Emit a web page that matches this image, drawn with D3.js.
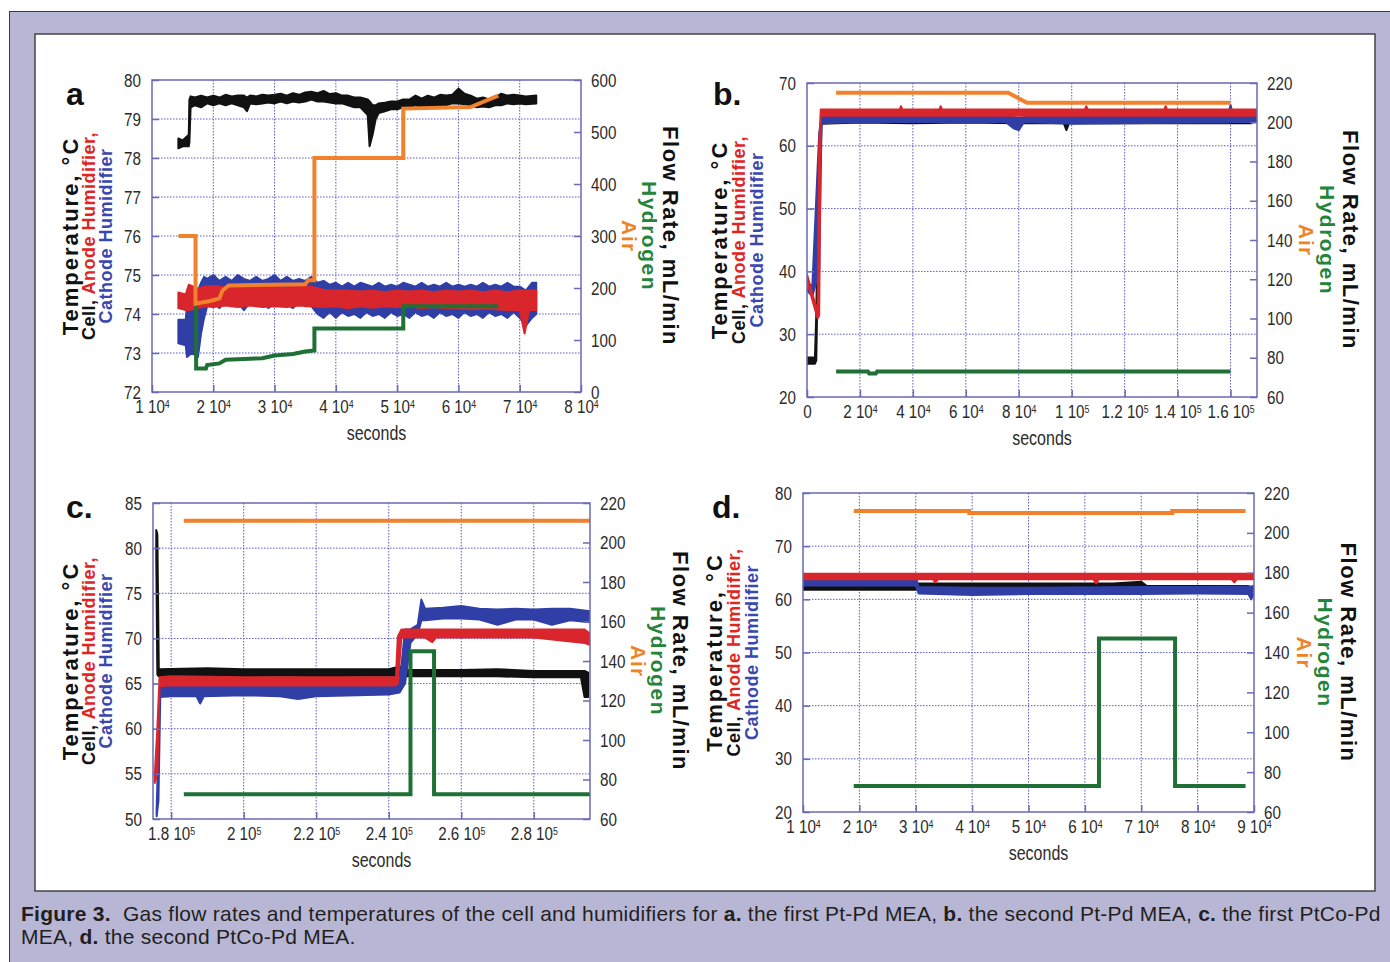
<!DOCTYPE html>
<html><head><meta charset="utf-8">
<script src="https://cdn.jsdelivr.net/npm/d3@7"></script>
<style>
body{margin:0;background:#fff;}
svg text{white-space:pre;}
</style></head><body>
<svg id="chart" width="1390" height="962"></svg>
<script>
// ================= DATA =================
// Panel a
const aXDomain = [10000, 80000];
const aYDomain = [72, 80];
const aRDomain = [0, 600];
const aXTicks = [10000,20000,30000,40000,50000,60000,70000,80000];
const aXLabels = ["1 10^4","2 10^4","3 10^4","4 10^4","5 10^4","6 10^4","7 10^4","8 10^4"];
const aYTicks = [72,73,74,75,76,77,78,79,80];
const aRTicks = [0,100,200,300,400,500,600];
// temperature bands: [seconds, low, high]
const aCell = [[14300,78.25,78.5],[15000,78.3,78.45],[16000,78.3,78.6],[16100,78.4,79.5],[16300,79.3,79.58],[17000,79.35,79.55],[18000,79.3,79.6],[19000,79.4,79.55],[20000,79.35,79.6],[21000,79.4,79.55],[22000,79.35,79.62],[23000,79.4,79.58],[24000,79.35,79.6],[25000,79.3,79.6],[25500,79.2,79.55],[26000,79.4,79.6],[27000,79.38,79.58],[28000,79.4,79.62],[29000,79.42,79.6],[30000,79.4,79.62],[31000,79.45,79.65],[32000,79.4,79.6],[33000,79.45,79.66],[34000,79.42,79.62],[35000,79.45,79.68],[36000,79.5,79.7],[37000,79.45,79.66],[38000,79.45,79.72],[39000,79.42,79.64],[40000,79.4,79.66],[41000,79.4,79.6],[42000,79.35,79.6],[43000,79.3,79.55],[44000,79.3,79.55],[45200,79.1,79.5],[45500,78.3,79.45],[46000,78.6,79.35],[46500,79.0,79.35],[47000,79.15,79.4],[48000,79.2,79.42],[49000,79.25,79.45],[50000,79.25,79.45],[51000,79.3,79.5],[52000,79.3,79.5],[53000,79.35,79.6],[54000,79.3,79.52],[55000,79.3,79.6],[56000,79.35,79.55],[57000,79.35,79.62],[58000,79.35,79.6],[59000,79.4,79.62],[60000,79.4,79.78],[61000,79.38,79.65],[62000,79.35,79.6],[63000,79.3,79.52],[64000,79.32,79.55],[65000,79.3,79.5],[66000,79.35,79.55],[67000,79.35,79.65],[68000,79.4,79.6],[69000,79.38,79.62],[70000,79.4,79.6],[71000,79.38,79.58],[72700,79.4,79.6]];
const aAnode = [[14300,74.15,74.55],[15500,74.1,74.5],[16000,74.1,74.75],[17500,74.15,74.65],[18500,74.2,74.7],[20000,74.18,74.72],[22000,74.22,74.68],[24000,74.18,74.72],[26000,74.22,74.68],[28000,74.18,74.72],[30000,74.2,74.7],[32000,74.18,74.68],[34000,74.22,74.72],[36000,74.2,74.7],[38000,74.18,74.62],[40000,74.2,74.6],[42000,74.15,74.6],[44000,74.2,74.58],[46000,74.16,74.6],[48000,74.2,74.56],[50000,74.18,74.6],[52000,74.2,74.58],[54000,74.15,74.6],[56000,74.18,74.56],[58000,74.15,74.6],[60000,74.15,74.58],[62000,74.12,74.6],[64000,74.15,74.56],[66000,74.12,74.6],[68000,74.1,74.56],[70000,74.1,74.6],[70800,73.5,74.6],[71500,74.1,74.6],[72700,74.1,74.6]];
const aCathode = [[14300,73.25,73.85],[15500,73.2,73.85],[15700,72.9,74.2],[16500,73.0,74.5],[17500,72.9,74.6],[18000,73.5,74.8],[18500,73.9,74.95],[19000,74.2,74.9],[20000,74.3,75.0],[21000,74.15,74.85],[22000,74.3,74.95],[23000,74.2,74.85],[24000,74.3,75.0],[25000,74.1,74.9],[26000,74.3,74.85],[27000,74.2,74.95],[28000,74.3,74.85],[29000,74.15,74.9],[30000,74.3,75.0],[31000,74.2,74.85],[32000,74.25,74.95],[33000,74.15,74.85],[34000,74.3,74.9],[35000,74.2,74.85],[36000,74.2,74.95],[37000,74.0,74.8],[38000,73.9,74.85],[39000,74.05,74.75],[40000,73.9,74.8],[41000,74.05,74.7],[42000,73.95,74.8],[43000,74.0,74.7],[44000,73.9,74.8],[45000,74.05,74.75],[46000,73.95,74.7],[47000,74.0,74.8],[48000,73.9,74.7],[49000,74.05,74.75],[50000,73.95,74.7],[51000,74.0,74.8],[52000,73.9,74.75],[53000,74.05,74.7],[54000,73.95,74.8],[55000,74.0,74.7],[56000,73.9,74.75],[57000,74.05,74.7],[58000,73.95,74.8],[59000,74.0,74.7],[60000,73.9,74.75],[61000,74.05,74.7],[62000,73.95,74.75],[63000,74.0,74.7],[64000,73.9,74.8],[65000,74.05,74.7],[66000,73.95,74.75],[67000,74.0,74.7],[68000,73.9,74.8],[69000,74.05,74.7],[70000,73.9,74.7],[71000,73.7,74.6],[72000,73.9,74.8],[72700,74.0,74.8]];
// flow steps: [seconds, mL/min]
const aAir = [[14300,300],[17100,300],[17100,170],[19500,175],[21000,180],[21500,195],[22500,205],[35000,207],[35500,215],[36500,215],[36500,450],[51000,450],[51000,545],[62000,548],[66500,570]];
const aHydrogen = [[17200,165],[17200,45],[18800,45],[19000,52],[21000,55],[22000,62],[28000,65],[30000,70],[33000,73],[35000,78],[36500,80],[36500,122],[51000,122],[51000,165],[66500,165]];

// Panel b
const bXDomain = [0, 170000];
const bYDomain = [20, 70];
const bRDomain = [60, 220];
const bXTicks = [0,20000,40000,60000,80000,100000,120000,140000,160000];
const bXLabels = ["0","2 10^4","4 10^4","6 10^4","8 10^4","1 10^5","1.2 10^5","1.4 10^5","1.6 10^5"];
const bYTicks = [20,30,40,50,60,70];
const bRTicks = [60,80,100,120,140,160,180,200,220];
const bCell = [[0,25.3,26.3],[3000,25.3,26.3],[3500,25.8,33],[4500,50,58],[5500,63.5,64.5],[20000,63.7,64.3],[40000,63.6,64.3],[60000,63.7,64.3],[80000,63.6,64.4],[97000,63.6,64.3],[98000,62.5,64.3],[99000,63.6,64.3],[120000,63.6,64.3],[140000,63.6,64.3],[160000,63.6,64.4],[168000,63.6,64.4]];
const bAnode = [[0,38.5,39.5],[4000,32.5,33.5],[4600,33,60],[5200,64.8,65.8],[35000,64.8,65.8],[35500,64.8,66.3],[36000,64.8,65.8],[50000,64.8,65.8],[50500,64.8,66.3],[51000,64.8,65.8],[105000,64.8,65.8],[105500,64.8,66.3],[106000,64.8,65.8],[135000,64.8,65.8],[135500,64.8,66.3],[136000,64.8,65.8],[170000,64.8,65.8]];
const bCathode = [[0,37,38.5],[2000,36,37.5],[4600,40,62],[5500,63.6,64.6],[20000,63.8,64.6],[75000,63.8,64.6],[78000,62.8,64.6],[80000,62.5,64.4],[82000,63.8,64.6],[100000,63.5,64.6],[120000,63.6,64.7],[150000,63.7,64.8],[159000,63.7,64.8],[160000,63.8,66.5],[161000,63.8,64.8],[170000,63.8,65.2]];
const bAir = [[11000,215],[76000,215],[83000,210],[160000,210]];
const bHydrogen = [[11000,73],[23000,73],[23500,72],[26000,72],[26500,73],[160000,73]];

// Panel c
const cXDomain = [175000, 295500];
const cYDomain = [50, 85];
const cRDomain = [60, 220];
const cXTicks = [180000,200000,220000,240000,260000,280000];
const cXLabels = ["1.8 10^5","2 10^5","2.2 10^5","2.4 10^5","2.6 10^5","2.8 10^5"];
const cYTicks = [50,55,60,65,70,75,80,85];
const cRTicks = [60,80,100,120,140,160,180,200,220];
const cCell = [[175900,79,82],[176200,66,81.5],[176600,65.8,66.6],[190000,65.9,66.7],[200000,65.8,66.6],[210000,65.9,66.6],[220000,65.8,66.6],[240000,65.9,66.6],[243000,65.8,66.9],[245000,65.8,66.5],[260000,65.8,66.5],[270000,65.8,66.6],[280000,65.7,66.4],[293000,65.7,66.4],[294000,63.5,66.4],[295000,63.5,66.2]];
const cAnode = [[175500,54,55],[176200,55,60],[176800,64.7,65.7],[180000,64.8,65.8],[200000,64.8,65.7],[220000,64.8,65.7],[242000,64.8,65.7],[242500,65,70.2],[243500,70.1,71],[250000,70.1,71],[252000,69.6,71],[253000,70.1,71],[260000,70.1,71],[280000,70.1,71],[294000,69.5,71],[295500,69.3,70.5]];
const cCathode = [[176000,50.3,51],[176500,52,58],[177000,63.5,65],[180000,63.6,65],[187000,63.6,65],[188000,62.8,65],[189000,63.6,65],[200000,63.7,65],[210000,63.6,65],[215000,63.3,65],[220000,63.6,65],[240000,63.8,64.9],[243000,64.0,65],[244500,65,71],[246000,69.5,71],[248000,70.5,71.5],[249000,72,74.3],[250000,72,73.3],[255000,72.2,73.4],[260000,72.2,73.6],[265000,72.1,73.3],[270000,71.5,73.2],[275000,72.1,73.3],[280000,72.1,73.2],[285000,71.5,73.3],[290000,72,73.3],[295500,71.8,73.0]];
const cAir = [[183500,211],[295500,211]];
const cHydrogen = [[183500,72.5],[246000,72.5],[246000,145],[252500,145],[252500,72.5],[295500,72.5]];

// Panel d
const dXDomain = [10000, 90000];
const dYDomain = [20, 80];
const dRDomain = [60, 220];
const dXTicks = [10000,20000,30000,40000,50000,60000,70000,80000,90000];
const dXLabels = ["1 10^4","2 10^4","3 10^4","4 10^4","5 10^4","6 10^4","7 10^4","8 10^4","9 10^4"];
const dYTicks = [20,30,40,50,60,70,80];
const dRTicks = [60,80,100,120,140,160,180,200,220];
const dCell = [[10000,61.8,62.8],[30000,61.8,62.8],[30500,62.1,63],[50000,62.1,63],[65000,62.2,63],[70000,62.3,63.3],[71000,61.8,62.5],[89000,61.8,62.5]];
const dCathode = [[10000,62.6,64.3],[30000,62.6,64.3],[30500,61.1,62.3],[40000,60.8,62.2],[50000,61,62.2],[70000,61,62.3],[80000,61.1,62.3],[89000,61,62.4],[89500,60,62.4],[90000,61,62.5]];
const dAnode = [[10000,63.8,64.8],[33000,63.8,64.8],[33500,63.2,64.8],[34000,63.8,64.8],[61500,63.8,64.8],[62000,63.0,64.8],[62500,63.8,64.8],[86000,63.8,64.8],[86500,63.2,64.8],[87000,63.8,64.8],[90000,63.8,64.8]];
const dAir = [[19000,211],[39500,211],[39500,210],[75500,210],[75500,211],[88500,211]];
const dHydrogen = [[19000,73],[62500,73],[62500,147],[76000,147],[76000,73],[88500,73]];

const caption1 = [["Figure 3.",true],["  Gas flow rates and temperatures of the cell and humidifiers for ",false],["a.",true],[" the first Pt-Pd MEA, ",false],["b.",true],[" the second Pt-Pd MEA, ",false],["c.",true],[" the first PtCo-Pd",false]];
const caption2 = [["MEA, ",false],["d.",true],[" the second PtCo-Pd MEA.",false]];

// ================= STYLE / LAYOUT =================
const C = {cell:"#111111", anode:"#d8262c", cathode:"#2f3fa6", air:"#f2812e", hydrogen:"#1f7034",
           frame:"#6a6ab4", grid:"#5a5ac8", label:"#e0251f", labelB:"#3848b0", labelG:"#23843a", labelO:"#f08224"};

const panels = [
  {letter:"a", lx:66, ly:105, l:152, r:581, t:80, b:392, xDom:aXDomain, yDom:aYDomain, rDom:aRDomain,
   xTicks:aXTicks, xLabels:aXLabels, yTicks:aYTicks, rTicks:aRTicks,
   cell:aCell, anode:aAnode, cathode:aCathode, air:aAir, hyd:aHydrogen, tl:[-74,-57,-40], tr:[41,61,82]},
  {letter:"b.", lx:713, ly:105, l:807, r:1257, t:83, b:397, xDom:bXDomain, yDom:bYDomain, rDom:bRDomain,
   xTicks:bXTicks, xLabels:bXLabels, yTicks:bYTicks, rTicks:bRTicks,
   cell:bCell, anode:bAnode, cathode:bCathode, air:bAir, hyd:bHydrogen, tl:[-80,-62,-44], tr:[42,63,86]},
  {letter:"c.", lx:66, ly:518, l:153, r:590, t:503, b:819, xDom:cXDomain, yDom:cYDomain, rDom:cRDomain,
   xTicks:cXTicks, xLabels:cXLabels, yTicks:cYTicks, rTicks:cRTicks,
   cell:cCell, anode:cAnode, cathode:cCathode, air:cAir, hyd:cHydrogen, tl:[-75,-58,-41], tr:[41,61,83]},
  {letter:"d.", lx:712, ly:518, l:803, r:1254, t:493, b:812, xDom:dXDomain, yDom:dYDomain, rDom:dRDomain,
   xTicks:dXTicks, xLabels:dXLabels, yTicks:dYTicks, rTicks:dRTicks,
   cell:dCell, anode:dAnode, cathode:dCathode, air:dAir, hyd:dHydrogen, tl:[-81,-63,-45], tr:[43,64,87]}
];

const svg = d3.select("#chart");
svg.append("rect").attr("x",9.5).attr("y",11.5).attr("width",1400).attr("height",1000)
   .attr("fill","#b8b6d5").attr("stroke","#3a3a3a").attr("stroke-width",1);
svg.append("rect").attr("x",35).attr("y",34).attr("width",1340).attr("height",857)
   .attr("fill","#ffffff").attr("stroke","#444").attr("stroke-width",1.5);

const tickFont = "'Liberation Sans',Arial,sans-serif";
const boldFont = "'Liberation Sans',Arial,sans-serif";
const SQ = 0.8; // horizontal condensing of tick labels

function condense(sel){
  sel.each(function(){
    const t = d3.select(this); const xv = +t.attr("x") || 0;
    t.attr("x",0).attr("transform",`translate(${xv},0) scale(${SQ},1)`);
  });
}

panels.forEach((p,i)=>{
  const g = svg.append("g");
  const x = d3.scaleLinear().domain(p.xDom).range([p.l,p.r]);
  const y = d3.scaleLinear().domain(p.yDom).range([p.b,p.t]);
  const yr = d3.scaleLinear().domain(p.rDom).range([p.b,p.t]);
  const w = p.r-p.l, h = p.b-p.t;

  const gridX = p.xTicks.filter(v=>x(v)>p.l+2 && x(v)<p.r-2);
  const gridY = p.yTicks.filter(v=>y(v)>p.t+2 && y(v)<p.b-2);
  g.selectAll(".gx").data(gridX).join("line").attr("x1",d=>x(d)).attr("x2",d=>x(d)).attr("y1",p.t).attr("y2",p.b)
    .attr("stroke",C.grid).attr("stroke-width",1).attr("stroke-dasharray","1.5,1.5");
  g.selectAll(".gy").data(gridY).join("line").attr("y1",d=>y(d)).attr("y2",d=>y(d)).attr("x1",p.l).attr("x2",p.r)
    .attr("stroke",C.grid).attr("stroke-width",1).attr("stroke-dasharray","1.5,1.5");

  const cid = "clip"+i;
  svg.append("clipPath").attr("id",cid).append("rect").attr("x",p.l).attr("y",p.t).attr("width",w).attr("height",h);
  const plot = g.append("g").attr("clip-path",`url(#${cid})`);

  const area = d3.area().x(d=>x(d[0])).y0(d=>y(d[1])).y1(d=>y(d[2]));
  [["cell",C.cell],["cathode",C.cathode],["anode",C.anode]].forEach(([k,col])=>{
    plot.append("path").datum(p[k]).attr("d",area).attr("fill",col).attr("stroke",col)
      .attr("stroke-width",2).attr("stroke-linejoin","round");
  });
  const line = d3.line().x(d=>x(d[0])).y(d=>yr(d[1]));
  [["hyd",C.hydrogen],["air",C.air]].forEach(([k,col])=>{
    plot.append("path").datum(p[k]).attr("d",line).attr("fill","none").attr("stroke",col)
      .attr("stroke-width",4).attr("stroke-linejoin","miter");
  });

  g.append("rect").attr("x",p.l).attr("y",p.t).attr("width",w).attr("height",h)
    .attr("fill","none").attr("stroke",C.frame).attr("stroke-width",1.5);

  const styleAxis = sel => {
    sel.select(".domain").remove();
    sel.selectAll(".tick line").attr("stroke",C.frame).attr("stroke-width",1.5);
    sel.selectAll(".tick text").attr("fill","#2b2b2b").style("font-family",tickFont).style("font-size","19px");
    condense(sel.selectAll(".tick text"));
  };
  const la = g.append("g").attr("transform",`translate(${p.l},0)`)
    .call(d3.axisLeft(y).tickValues(p.yTicks).tickSize(-7).tickPadding(11).tickFormat(d3.format("d")));
  styleAxis(la);
  const ra = g.append("g").attr("transform",`translate(${p.r},0)`)
    .call(d3.axisRight(yr).tickValues(p.rTicks).tickSize(-7).tickPadding(10).tickFormat(d3.format("d")));
  styleAxis(ra);
  const ba = g.append("g").attr("transform",`translate(0,${p.b})`)
    .call(d3.axisBottom(x).tickValues(p.xTicks).tickSize(-7).tickPadding(8).tickFormat((d,j)=>p.xLabels[j]));
  styleAxis(ba);
  ba.selectAll(".tick text").each(function(d,j){
    const s = p.xLabels[j]; const t = d3.select(this); t.text(null);
    const parts = s.split("^");
    t.append("tspan").text(parts[0]);
    if(parts[1]) t.append("tspan").attr("dy","-0.5em").style("font-size","11px").text(parts[1]);
  });

  g.append("text").attr("transform",`translate(${(p.l+p.r)/2+10},${p.b+48}) scale(${SQ},1)`).attr("text-anchor","middle")
    .style("font-family",tickFont).style("font-size","20px").attr("fill","#2b2b2b").text("seconds");

  const cy = (p.t+p.b)/2;
  const lt = (dx, parts, size, ls) => {
    const t = g.append("text").attr("transform",`translate(${p.l+dx},${cy}) rotate(-90)`)
      .attr("text-anchor","middle").style("font-family",boldFont).style("font-weight","bold")
      .style("font-size",size+"px").style("letter-spacing",ls+"px");
    parts.forEach(([s,c])=>t.append("tspan").attr("fill",c).text(s));
  };
  lt(p.tl[0], [["Temperature, °C","#111"]], 22, 2);
  lt(p.tl[1], [["Cell, ","#111"],["Anode Humidifier,",C.label]], 18, 0.5);
  lt(p.tl[2], [["Cathode Humidifier",C.labelB]], 18, 0.5);
  const rt = (dx, s, c, size, ls) => {
    g.append("text").attr("transform",`translate(${p.r+dx},${cy}) rotate(90)`)
      .attr("text-anchor","middle").style("font-family",boldFont).style("font-weight","bold")
      .style("font-size",size+"px").style("letter-spacing",ls+"px").attr("fill",c).text(s);
  };
  rt(p.tr[0], "Air", C.labelO, 21, 1);
  rt(p.tr[1], "Hydrogen", C.labelG, 21, 1.5);
  rt(p.tr[2], "Flow Rate, mL/min", "#111", 22, 1.5);

  g.append("text").attr("x",p.lx).attr("y",p.ly).style("font-family",boldFont).style("font-weight","bold")
    .style("font-size","32px").attr("fill","#111").text(p.letter);
});

[[caption1,921],[caption2,944]].forEach(([parts,yy])=>{
  const t = svg.append("text").attr("x",21).attr("y",yy).style("font-family","'Liberation Sans',Arial,sans-serif")
    .style("font-size","21px").style("letter-spacing","0.25px").attr("fill","#231f20");
  parts.forEach(([s,b])=>t.append("tspan").style("font-weight",b?"bold":"normal").text(s));
});
</script>
</body></html>
